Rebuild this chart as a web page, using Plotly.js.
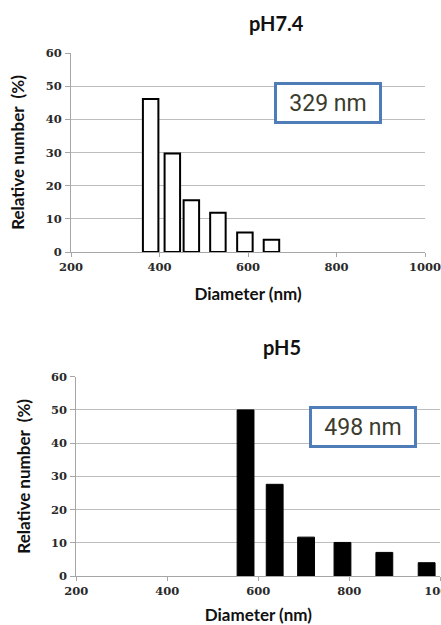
<!DOCTYPE html>
<html>
<head>
<meta charset="utf-8">
<script src="https://cdn.plot.ly/plotly-3.0.1.min.js"></script>
<style>html,body{margin:0;padding:0;background:#fff;}#chart{width:441px;height:625px;}</style>
</head>
<body>
<div id="chart"></div>
<script>
// Data
const diameterTop = [380, 429, 472, 532, 593, 653];
const relativeTop = [46.1, 29.7, 15.6, 11.8, 5.9, 3.7];
const diameterBottom = [572, 636, 705, 785, 877, 970];
const relativeBottom = [50.0, 27.6, 11.7, 10.1, 7.1, 4.0];
const titles = ["pH7.4", "pH5"];
const meanLabels = ["329 nm", "498 nm"];
const xTitle = "Diameter (nm)";
const yTitle = "Relative number\u00a0\u00a0(%)";

const W = 441, H = 625;
const px = v => v / W;
const py = v => (H - v) / H;

const traces = [
  {type: 'bar', x: diameterTop, y: relativeTop, width: 35, xaxis: 'x', yaxis: 'y',
   marker: {color: '#ffffff', line: {color: '#000000', width: 2}}, hoverinfo: 'skip'},
  {type: 'bar', x: diameterBottom, y: relativeBottom, width: 37, xaxis: 'x2', yaxis: 'y2',
   marker: {color: '#000000', line: {color: '#000000', width: 1}}, hoverinfo: 'skip'}
];

const tickFont = {family: 'DejaVu Serif', size: 11.5, color: '#2a2a2a', weight: 'bold'};
const titleFont = {family: 'Lato', size: 17, color: '#111', weight: 'bold'};

function xa(domain) {
  return {domain: domain, range: [200, 1000], tickvals: [200, 400, 600, 800, 1000],
    showgrid: false, zeroline: false, showline: true, linecolor: '#a6a6a6', linewidth: 1,
    ticks: 'outside', ticklen: 4, tickcolor: '#a6a6a6', tickfont: tickFont,
    ticklabeloverflow: 'allow',
    title: {text: xTitle, font: titleFont, standoff: 15}};
}
function ya(domain, anchor) {
  return {domain: domain, range: [0, 60], dtick: 10, anchor: anchor,
    showgrid: true, gridcolor: '#bdbdbd', gridwidth: 1, zeroline: false,
    showline: true, linecolor: '#a6a6a6', linewidth: 1,
    ticks: 'outside', ticklen: 5, tickcolor: '#a6a6a6', tickfont: tickFont,
    ticklabelstandoff: 1,
    title: {text: yTitle, font: titleFont, standoff: 16}};
}

const boxFont = {family: 'Roboto', size: 23, color: '#3b3b2e'};

const layout = {
  width: W, height: H,
  margin: {l: 0, r: 0, t: 0, b: 0},
  paper_bgcolor: '#ffffff', plot_bgcolor: '#ffffff',
  showlegend: false, bargap: 0,
  xaxis: Object.assign(xa([px(71), px(425)]), {anchor: 'y'}),
  yaxis: ya([py(252), py(53)], 'x'),
  xaxis2: Object.assign(xa([px(76.3), px(440.3)]), {anchor: 'y2'}),
  yaxis2: ya([py(576), py(376.7)], 'x2'),
  annotations: [
    {text: titles[0], xref: 'paper', yref: 'paper', x: px(276), y: py(23), xanchor: 'center', yanchor: 'middle', showarrow: false,
     font: {family: 'Lato', size: 20, color: '#111', weight: 'bold'}},
    {text: titles[1], xref: 'paper', yref: 'paper', x: px(282), y: py(347), xanchor: 'center', yanchor: 'middle', showarrow: false,
     font: {family: 'Lato', size: 20, color: '#111', weight: 'bold'}},
    {text: meanLabels[0], xref: 'paper', yref: 'paper', x: px(328.3), y: py(103.2), xanchor: 'center', yanchor: 'middle', showarrow: false,
     width: 102, height: 36, borderpad: 0, bordercolor: '#4f7db8', borderwidth: 3, bgcolor: '#ffffff', font: boxFont},
    {text: meanLabels[1], xref: 'paper', yref: 'paper', x: px(363), y: py(426.5), xanchor: 'center', yanchor: 'middle', showarrow: false,
     width: 102, height: 36, borderpad: 0, bordercolor: '#4f7db8', borderwidth: 3, bgcolor: '#ffffff', font: boxFont}
  ]
};

Plotly.newPlot('chart', traces, layout, {staticPlot: true, displayModeBar: false});
</script>
</body>
</html>
